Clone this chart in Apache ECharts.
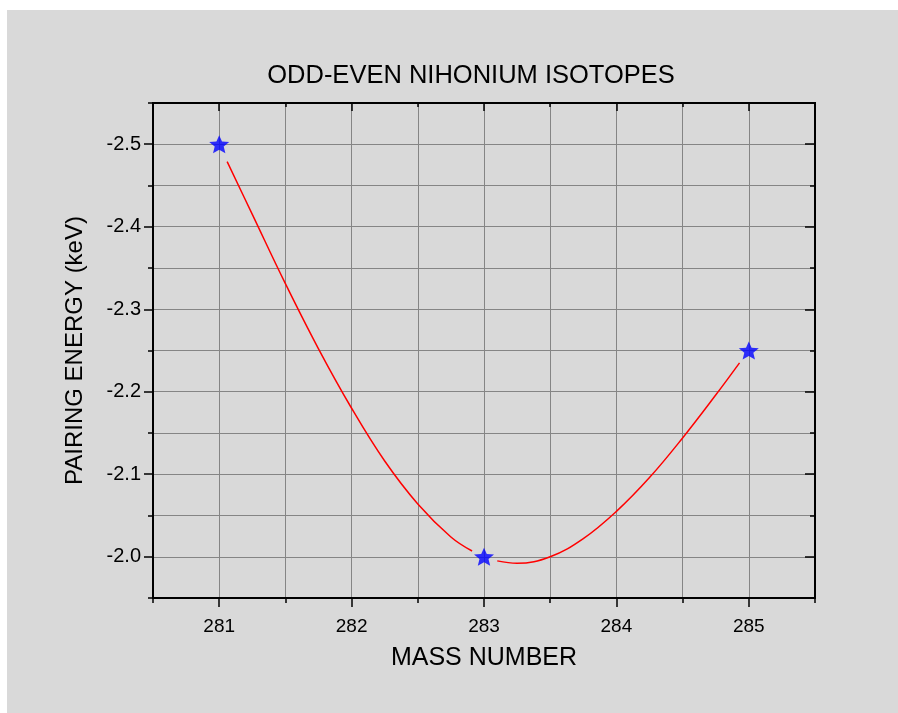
<!DOCTYPE html>
<html>
<head>
<meta charset="utf-8">
<script src="https://cdn.jsdelivr.net/npm/echarts@6/dist/echarts.min.js"></script>
<style>
  html, body { margin: 0; padding: 0; background: #ffffff; }
  #chart { position: absolute; left: 7px; top: 10px; width: 891px; height: 703px; }
</style>
</head>
<body>
<div id="chart"></div>
<script>
// Measured isotopes
const massNumbers = [281, 283, 285];
const pairingEnergy = [-2.5, -2.0, -2.25];

// Fitted curve, left branch (281 → 283) and right branch (283 → 285)
const fitMassA = [281.06, 281.25, 281.5, 281.75, 282.0, 282.25, 282.5, 282.75, 282.91];
const fitEnergyA = [-2.479, -2.415, -2.331, -2.252, -2.180, -2.116, -2.064, -2.024, -2.007];
const fitMassB = [283.10, 283.25, 283.5, 283.75, 284.0, 284.25, 284.5, 284.75, 284.93];
const fitEnergyB = [-1.995, -1.992, -2.000, -2.022, -2.055, -2.096, -2.144, -2.196, -2.235];

// Axis ranges and labelled ticks
const xMin = 280.5, xMax = 285.5, xStep = 0.5;
const yMin = -2.55, yMax = -1.95, yStep = 0.05;
const xMajor = [281, 282, 283, 284, 285];
const yMajor = [-2.5, -2.4, -2.3, -2.2, -2.1, -2.0];

const FONT = '"Liberation Sans", Arial, sans-serif';
// five-pointed star marker
const starPath = 'path://M0,-10 L2.645,-3.64 L9.51,-3.09 L4.28,1.39 L5.88,8.09 L0,4.5 L-5.88,8.09 L-4.28,1.39 L-9.51,-3.09 L-2.645,-3.64 Z';

const isMajor = (v, unit) => Math.abs(v / unit - Math.round(v / unit)) < 1e-6;

const frameLine = { show: true, lineStyle: { color: '#000', width: 2 } };
const gridLine = { show: true, lineStyle: { color: '#858585', width: 1 } };

function xAxisDef(position, inside, length, custom, withLabels) {
  const ax = {
    type: 'value', position: position, min: xMin, max: xMax, interval: xStep,
    axisLine: frameLine,
    axisTick: { show: true, inside: inside, length: length, lineStyle: { color: '#000', width: 1.5 } },
    axisLabel: { show: false },
    splitLine: { show: false }
  };
  if (custom) ax.axisTick.customValues = xMajor;
  if (withLabels) {
    ax.splitLine = gridLine;
    ax.axisLabel = {
      show: true, margin: 19, color: '#000', fontFamily: FONT, fontSize: 19,
      formatter: v => isMajor(v, 1) ? String(Math.round(v)) : ''
    };
    ax.name = 'MASS NUMBER';
    ax.nameLocation = 'middle';
    ax.nameGap = 48;
    ax.nameTextStyle = { color: '#000', fontFamily: FONT, fontSize: 25 };
  }
  return ax;
}

function yAxisDef(position, inside, length, custom, withLabels) {
  const ax = {
    type: 'value', position: position, inverse: true, min: yMin, max: yMax, interval: yStep,
    axisLine: frameLine,
    axisTick: { show: true, inside: inside, length: length, lineStyle: { color: '#000', width: 1.5 } },
    axisLabel: { show: false },
    splitLine: { show: false }
  };
  if (custom) ax.axisTick.customValues = yMajor;
  if (withLabels) {
    ax.splitLine = gridLine;
    ax.axisLabel = {
      show: true, margin: 12, color: '#000', fontFamily: FONT, fontSize: 20,
      formatter: v => isMajor(v, 0.1) ? v.toFixed(1) : ''
    };
    ax.name = 'PAIRING ENERGY (keV)';
    ax.nameLocation = 'middle';
    ax.nameGap = 66;
    ax.nameTextStyle = { color: '#000', fontFamily: FONT, fontSize: 24 };
  }
  return ax;
}

const chart = echarts.init(document.getElementById('chart'), null, { renderer: 'canvas' });

chart.setOption({
  backgroundColor: '#d9d9d9',
  animation: false,
  grid: { left: 146, top: 93, right: 83, bottom: 115, containLabel: false },
  graphic: [{
    type: 'text', x: 464, y: 66, z: 10,
    style: {
      text: 'ODD-EVEN NIHONIUM ISOTOPES', fill: '#000',
      font: '25.5px "Liberation Sans", Arial, sans-serif',
      align: 'center', verticalAlign: 'middle'
    }
  }],
  xAxis: [
    xAxisDef('bottom', false, 5, false, true),
    xAxisDef('bottom', false, 9, true, false),
    xAxisDef('top', true, 4, false, false),
    xAxisDef('top', true, 8, true, false)
  ],
  yAxis: [
    yAxisDef('left', false, 5, false, true),
    yAxisDef('left', false, 9, true, false),
    yAxisDef('right', true, 5, false, false),
    yAxisDef('right', true, 10, true, false)
  ],
  series: [
    {
      type: 'line', xAxisIndex: 0, yAxisIndex: 0, showSymbol: false, smooth: 0.4,
      lineStyle: { color: '#ff0000', width: 1.5 },
      data: fitMassA.map((m, i) => [m, fitEnergyA[i]]), z: 3
    },
    {
      type: 'line', xAxisIndex: 0, yAxisIndex: 0, showSymbol: false, smooth: 0.4,
      lineStyle: { color: '#ff0000', width: 1.5 },
      data: fitMassB.map((m, i) => [m, fitEnergyB[i]]), z: 3
    },
    {
      type: 'scatter', xAxisIndex: 0, yAxisIndex: 0,
      symbol: starPath, symbolSize: [20, 19], symbolKeepAspect: true,
      itemStyle: { color: '#0000ff' },
      data: massNumbers.map((m, i) => [m, pairingEnergy[i]]), z: 5
    }
  ]
});
</script>
</body>
</html>
